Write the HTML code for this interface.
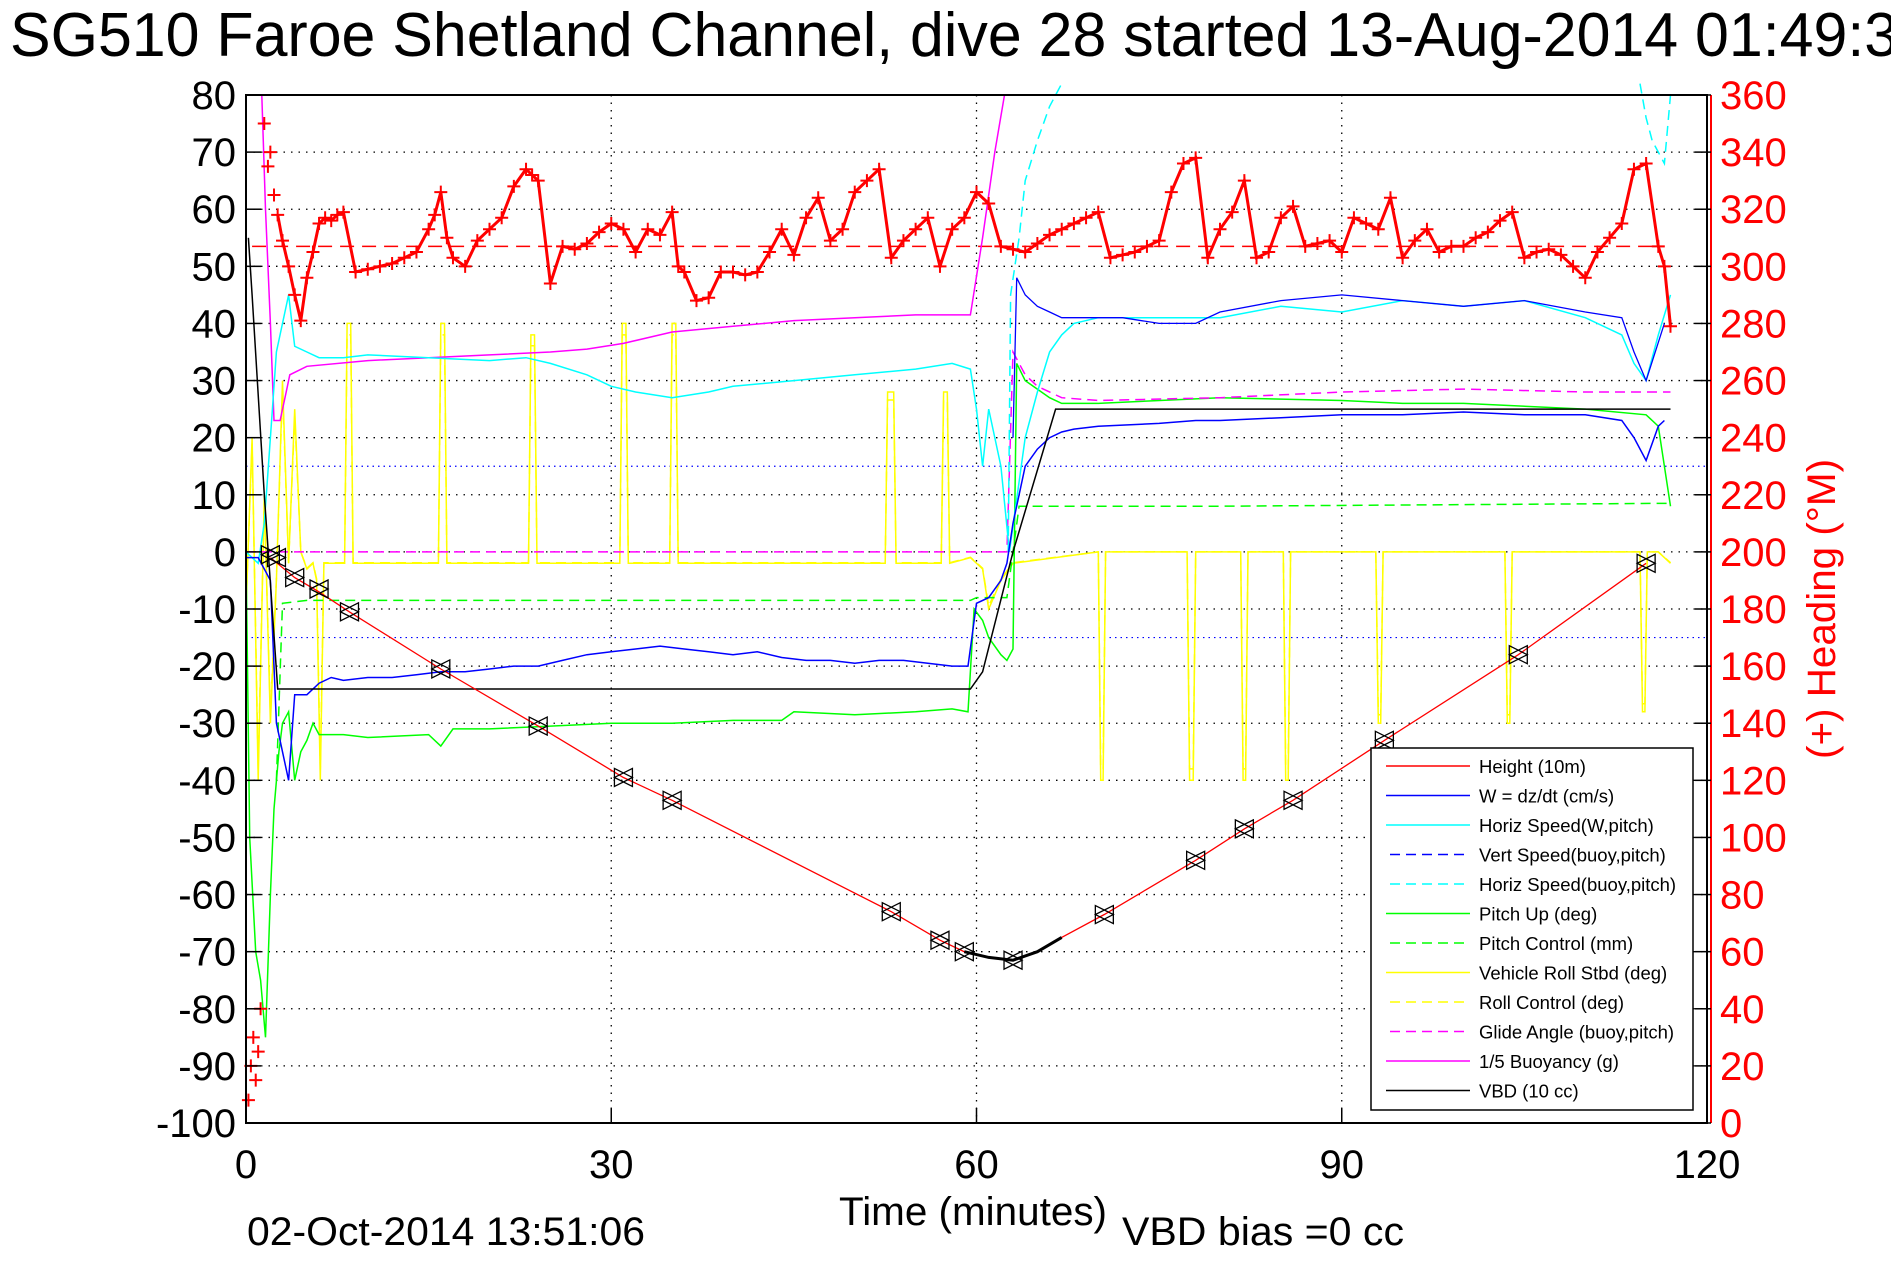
<!DOCTYPE html>
<html><head><meta charset="utf-8"><title>SG510 dive 28</title>
<style>html,body{margin:0;padding:0;background:#fff;}svg{display:block;font-family:"Liberation Sans",sans-serif;}</style>
</head><body>
<svg id="chart" width="1891" height="1262" viewBox="0 0 1891 1262" xmlns="http://www.w3.org/2000/svg">
<rect x="0" y="0" width="1891" height="1262" fill="#fff"/>
<g id="grid"></g>
<g id="series"></g>
<g id="axes"></g>
<text x="10" y="56" font-size="62" textLength="1922" lengthAdjust="spacingAndGlyphs">SG510 Faroe Shetland Channel, dive 28 started 13-Aug-2014 01:49:37</text>
<text x="973" y="1225" font-size="40" text-anchor="middle" textLength="268" lengthAdjust="spacingAndGlyphs">Time (minutes)</text>
<text x="1122" y="1245" font-size="40" textLength="282" lengthAdjust="spacingAndGlyphs">VBD bias =0 cc</text>
<text x="247" y="1245" font-size="40" textLength="398" lengthAdjust="spacingAndGlyphs">02-Oct-2014 13:51:06</text>
<text transform="translate(1835,609) rotate(-90)" font-size="40" fill="#f00" text-anchor="middle" textLength="300" lengthAdjust="spacingAndGlyphs">(+) Heading (°M)</text>
<g id="legend"></g>
</svg>
<script>
// ---- data ----
const xTicks = [0, 30, 60, 90, 120];
const yTicksLeft = [80, 70, 60, 50, 40, 30, 20, 10, 0, -10, -20, -30, -40, -50, -60, -70, -80, -90, -100];
const yTicksRight = [360, 340, 320, 300, 280, 260, 240, 220, 200, 180, 160, 140, 120, 100, 80, 60, 40, 20, 0];

const heightT = [2, 4, 6, 8.5, 16, 24, 31, 35, 53, 57, 59, 61, 63, 65, 67, 70.5, 78, 82, 86, 93.5, 104.5, 115];
const heightV = [-1, -4.5, -7, -10.5, -20.5, -30.5, -39.5, -43.5, -63, -68, -70, -71, -71.5, -70, -67.5, -63.5, -54, -48.5, -43.5, -33, -18, -2];
const markerT = [2, 2.5, 4, 6, 8.5, 16, 24, 31, 35, 53, 57, 59, 63, 70.5, 78, 82, 86, 93.5, 104.5, 115];
const markerV = [-0.5, -1, -4.5, -6.5, -10.5, -20.5, -30.5, -39.5, -43.5, -63, -68, -70, -71.5, -63.5, -54, -48.5, -43.5, -33, -18, -2];

const vbdT = [0.2, 0.5, 1.5, 2.6, 59.5, 60.5, 63, 66.5, 117];
const vbdV = [55, 45, 10, -24, -24, -21, 0, 25, 25];

const buoyT = [1.3, 1.6, 2, 2.3, 2.8, 3.3, 3.6, 5, 10, 15, 20, 25, 28, 31, 35, 40, 45, 50, 55, 59.5, 60.5, 61.5, 62.3];
const buoyV = [80, 60, 40, 23, 23, 28, 31, 32.5, 33.5, 34, 34.5, 35, 35.5, 36.5, 38.5, 39.5, 40.5, 41, 41.5, 41.5, 55, 70, 80];

const glideT = [0, 62.5, 63, 64, 65, 67, 70, 80, 90, 100, 110, 117];
const glideV = [0, 0, 35, 31, 29, 27, 26.5, 27, 28, 28.5, 28, 28];

const pitchT = [0, 0.3, 0.8, 1.2, 1.6, 2, 2.3, 2.7, 3, 3.5, 4, 4.5, 5, 5.5, 6, 8, 10, 15, 16, 17, 20, 25, 30, 35, 40, 44, 45, 50, 55, 58, 59.3, 59.8, 60.5, 61, 62, 62.5, 63, 63.3, 64, 66, 67, 70, 80, 90, 95, 100, 110, 115, 116, 117];
const pitchV = [0, -50, -70, -75, -85, -60, -45, -35, -30, -28, -40, -35, -33, -30, -32, -32, -32.5, -32, -34, -31, -31, -30.5, -30, -30, -29.5, -29.5, -28, -28.5, -28, -27.5, -28, -10, -12, -15, -18, -19, -17, 33, 30, 27, 26, 26, 27, 26.5, 26, 26, 25, 24, 22, 8];

const pctlT = [2.5, 3, 5, 59.5, 60, 62.5, 63.5, 80, 117];
const pctlV = [-40, -9, -8.5, -8.5, -8, -8, 8, 8, 8.5];

const wT = [0, 1, 2, 2.5, 3, 3.5, 4, 5, 6, 7, 8, 10, 12, 14, 16, 18, 20, 22, 24, 26, 28, 30, 32, 34, 36, 38, 40, 42, 44, 46, 48, 50, 52, 54, 56, 58, 59.3, 60, 61, 62, 62.5, 63, 63.5, 64, 65, 66, 67, 68, 70, 75, 78, 80, 85, 90, 95, 100, 105, 110, 113, 114, 115, 116, 116.5];
const wV = [-1, -1, -5, -30, -35, -40, -25, -25, -23, -22, -22.5, -22, -22, -21.5, -21, -21, -20.5, -20, -20, -19, -18, -17.5, -17, -16.5, -17, -17.5, -18, -17.5, -18.5, -19, -19, -19.5, -19, -19, -19.5, -20, -20, -9, -8, -5, -2, 5, 10, 15, 18, 20, 21, 21.5, 22, 22.5, 23, 23, 23.5, 24, 24, 24.5, 24, 24, 23, 20, 16, 22, 23];

const vsT = [63, 63.3, 64, 65, 66, 67, 70, 72, 75, 78, 80, 85, 90, 95, 100, 105, 110, 113, 114, 115, 116.5];
const vsV = [20, 48, 45, 43, 42, 41, 41, 41, 40, 40, 42, 44, 45, 44, 43, 44, 42, 41, 35, 30, 40];

const hsT = [0, 1, 1.5, 2, 2.5, 3, 3.5, 4, 5, 6, 8, 10, 15, 20, 23, 25, 28, 30, 32, 35, 38, 40, 45, 50, 55, 58, 59.5, 60, 60.5, 61, 62, 62.7, 64, 65, 66, 67, 68, 70, 75, 80, 85, 90, 95, 100, 105, 110, 113, 114, 115, 116, 117];
const hsV = [0, -2, 5, 20, 35, 40, 45, 36, 35, 34, 34, 34.5, 34, 33.5, 34, 33, 31, 29, 28, 27, 28, 29, 30, 31, 32, 33, 32, 25, 15, 25, 15, 0, 20, 28, 35, 38, 40, 41, 41, 41, 43, 42, 44, 43, 44, 41, 38, 33, 30, 38, 45];

const hbT = [62.6, 62.8, 63.5, 64, 65, 66, 67];
const hbV = [0, 45, 55, 65, 72, 78, 82];
const hbEndT = [114.5, 115, 115.5, 116, 116.5, 117];
const hbEndV = [82, 76, 72, 70, 68, 80];

const rollT = [0, 0.5, 1, 1.5, 2, 2.5, 3, 3.5, 4, 4.5, 5, 5.5, 5.8, 6.1, 6.4, 8.1, 8.3, 8.6, 8.8, 15.8, 16, 16.3, 16.5, 23.2, 23.4, 23.7, 23.9, 30.7, 30.9, 31.2, 31.4, 34.8, 35, 35.3, 35.5, 52.5, 52.7, 53.2, 53.4, 57.1, 57.3, 57.6, 57.8, 59.5, 60.5, 61, 62, 63, 70, 70.2, 70.4, 70.6, 77.3, 77.5, 77.8, 78, 81.7, 81.9, 82.1, 82.3, 85.2, 85.4, 85.6, 85.8, 92.8, 93, 93.2, 93.4, 103.4, 103.6, 103.8, 104, 114.5, 114.7, 114.9, 115.1, 116, 117];
const rollV = [-10, 20, -40, 10, -30, -5, 30, -2, 25, 0, -3, -2, -5, -40, -2, -2, 40, 40, -2, -2, 40, 40, -2, -2, 38, 38, -2, -2, 40, 40, -2, -2, 40, 40, -2, -2, 28, 28, -2, -2, 28, 28, -2, -1, -3, -10, -5, -2, 0, -40, -40, 0, 0, -40, -40, 0, 0, -40, -40, 0, 0, -40, -40, 0, 0, -30, -30, 0, 0, -30, -30, 0, 0, -28, -28, 0, 0, -2];

const headT = [0.2, 0.4, 0.6, 0.8, 1.0, 1.2, 1.5, 1.8, 2.0, 2.3, 2.6, 3, 3.5, 4, 4.5, 5, 5.5, 6, 6.5, 7, 7.5, 8, 9, 10, 11, 12, 13, 14, 15, 15.5, 16, 16.5, 17, 18, 19, 20, 21, 22, 23, 23.5, 24, 25, 26, 27, 28, 29, 30, 31, 32, 33, 34, 35, 35.5, 36, 37, 38, 39, 40, 41, 42, 43, 44, 45, 46, 47, 48, 49, 50, 51, 52, 53, 54, 55, 56, 57, 58, 59, 60, 61, 62, 63, 64, 65, 66, 67, 68, 69, 70, 71, 72, 73, 74, 75, 76, 77, 78, 79, 80, 81, 82, 83, 84, 85, 86, 87, 88, 89, 90, 91, 92, 93, 94, 95, 96, 97, 98, 99, 100, 101, 102, 103, 104, 105, 106, 107, 108, 109, 110, 111, 112, 113, 114, 115, 116, 116.5, 117];
const headV = [8, 20, 30, 15, 25, 40, 350, 335, 340, 325, 318, 309, 300, 290, 281, 296, 305, 315, 317, 316, 318, 319, 298, 299, 300, 301, 303, 305, 313, 318, 326, 310, 303, 300, 309, 313, 317, 328, 334, 332, 330, 294, 307, 306, 308, 312, 315, 313, 305, 313, 311, 319, 300, 298, 288, 289, 298, 298, 297, 298, 305, 313, 304, 317, 324, 309, 313, 326, 330, 334, 303, 309, 313, 317, 300, 313, 317, 326, 322, 307, 306, 305, 308, 311, 313, 315, 317, 319, 303, 304, 305, 307, 309, 326, 336, 338, 303, 313, 319, 330, 303, 305, 317, 321, 307, 308, 309, 305, 317, 315, 313, 324, 303, 309, 313, 305, 307, 307, 310, 312, 316, 319, 303, 305, 306, 304, 300, 296, 305, 310, 315, 334, 336, 307, 300, 279];

const headMean = [307];
const speedRef = [15, -15];

const legendNames = ['Height (10m)', 'W = dz/dt (cm/s)', 'Horiz Speed(W,pitch)', 'Vert Speed(buoy,pitch)', 'Horiz Speed(buoy,pitch)', 'Pitch Up (deg)', 'Pitch Control (mm)', 'Vehicle Roll Stbd (deg)', 'Roll Control (deg)', 'Glide Angle (buoy,pitch)', '1/5 Buoyancy (g)', 'VBD (10 cc)'];
const legendColors = ['#f00', '#00f', '#0ff', '#00f', '#0ff', '#0f0', '#0f0', '#ff0', '#ff0', '#f0f', '#f0f', '#000'];
const legendDashed = [false, false, false, true, true, false, true, false, true, true, false, false];

// ---- geometry ----
const L = 246, R = 1707, T = 95, B = 1123;
const X = t => L + (t / 120) * (R - L);
const YL = v => T + (80 - v) / 180 * (B - T);
const YR = h => B - h / 360 * (B - T);
const NS = 'http://www.w3.org/2000/svg';
function mk(tag, parent, attrs) {
  const e = document.createElementNS(NS, tag);
  for (const k in attrs) e.setAttribute(k, attrs[k]);
  parent.appendChild(e);
  return e;
}
const grid = document.getElementById('grid');
const series = document.getElementById('series');
const axes = document.getElementById('axes');
const legend = document.getElementById('legend');

yTicksLeft.forEach(v => {
  if (v === 80 || v === -100) return;
  const g = mk('line', grid, {x1: L, x2: R, y1: YL(v), y2: YL(v), stroke: '#000', 'stroke-width': 1.3, 'stroke-dasharray': '1.5 6'});
  
  
});
xTicks.forEach(t => {
  if (t === 0 || t === 120) return;
  const g = mk('line', grid, {x1: X(t), x2: X(t), y1: T, y2: B, stroke: '#000', 'stroke-width': 1.3, 'stroke-dasharray': '1.5 6'});
  
  
});
speedRef.forEach(v => {
  const g = mk('line', grid, {x1: L, x2: R, y1: YL(v), y2: YL(v), stroke: '#00f', 'stroke-width': 1.2, 'stroke-dasharray': '1.5 4'});
  
  
});

function poly(ts, vs, color, dashed, name, yf, width) {
  const pts = ts.map((t, i) => X(t).toFixed(1) + ',' + (yf || YL)(vs[i]).toFixed(1)).join(' ');
  const p = mk('polyline', series, {points: pts, fill: 'none', stroke: color, 'stroke-width': width || 1.5});
  if (dashed) p.setAttribute('stroke-dasharray', '10 6');
  
  
  return p;
}

const hm = mk('line', series, {x1: X(0.5), x2: X(116.5), y1: YR(headMean[0]), y2: YR(headMean[0]), stroke: '#f00', 'stroke-width': 1.5, 'stroke-dasharray': '14 8'});



poly(rollT, rollV.map(v => v * 0.95), '#ff0', true, 'roll-control-line');
poly(rollT, rollV, '#ff0', false, 'vehicle-roll-line');
poly(pctlT, pctlV, '#0f0', true, 'pitch-control-line');
poly(pitchT, pitchV, '#0f0', false, 'pitch-up-line');
poly(glideT, glideV, '#f0f', true, 'glide-angle-line');
poly(buoyT, buoyV, '#f0f', false, 'buoyancy-line');
poly(hsT, hsV, '#0ff', false, 'horiz-speed-w-line');
poly(hbT, hbV, '#0ff', true, 'horiz-speed-buoy-line');
poly(hbEndT, hbEndV, '#0ff', true, 'horiz-speed-buoy-end-line');
poly(vsT, vsV, '#00f', false, 'vert-speed-buoy-line', null, 1.3);
poly(wT, wV, '#00f', false, 'w-line');
poly(vbdT, vbdV, '#000', false, 'vbd-line');
poly(heightT, heightV, '#f00', false, 'height-line', null, 1.3);
poly(heightT.filter(t => t >= 59 && t <= 67), heightV.filter((v, i) => heightT[i] >= 59 && heightT[i] <= 67), '#000', false, 'height-bottom-segment', null, 3);

markerT.forEach((t, i) => {
  const x = X(t), y = YL(markerV[i]), s = 9;
  const m = mk('path', series, {d: `M${x - s},${y - s}L${x + s},${y}L${x - s},${y + s}Z M${x + s},${y - s}L${x - s},${y}L${x + s},${y + s}Z`, fill: 'none', stroke: '#000', 'stroke-width': 1.3});
  
  
});

const trackT = headT.filter(t => t >= 2.5);
const trackV = headV.filter((v, i) => headT[i] >= 2.5);
poly(trackT, trackV, '#f00', false, 'heading-track', YR, 3);

headT.forEach((t, i) => {
  const x = X(t), y = YR(headV[i]), s = 6.5;
  const m = mk('path', series, {d: `M${x - s},${y}H${x + s}M${x},${y - s}V${y + s}`, stroke: '#f00', 'stroke-width': 2});
  
  
});

const fr = mk('rect', axes, {x: L, y: T, width: R - L, height: B - T, fill: 'none', stroke: '#000', 'stroke-width': 2});


const ra = mk('line', axes, {x1: R + 4, x2: R + 4, y1: T, y2: B, stroke: '#f00', 'stroke-width': 2});



yTicksLeft.forEach(v => {
  const y = YL(v);
  const tk = mk('line', axes, {x1: L, x2: L + 15, y1: y, y2: y, stroke: '#000', 'stroke-width': 1.5});
  
  
  const tx = mk('text', axes, {x: 236, y: y + 14, 'font-size': 40, 'text-anchor': 'end'});
  tx.textContent = v;
  
  
});
yTicksRight.forEach(h => {
  const y = YR(h);
  const tk = mk('line', axes, {x1: R - 12, x2: R + 4, y1: y, y2: y, stroke: '#000', 'stroke-width': 1.5});
  
  
  const tx = mk('text', axes, {x: 1720, y: y + 14, 'font-size': 40, fill: '#f00'});
  tx.textContent = h;
  
  
});
xTicks.forEach(t => {
  const x = X(t);
  const tk = mk('line', axes, {x1: x, x2: x, y1: B, y2: B - 15, stroke: '#000', 'stroke-width': 1.5});
  
  
  const tx = mk('text', axes, {x: x, y: 1178, 'font-size': 40, 'text-anchor': 'middle'});
  tx.textContent = t;
  
  
});

const lb = mk('rect', legend, {x: 1371, y: 748, width: 322, height: 362, fill: '#fff', stroke: '#000', 'stroke-width': 1.5});


legendNames.forEach((n, i) => {
  const y = 766 + i * 29.5;
  const ln = mk('line', legend, {x1: legendDashed[i] ? 1390 : 1386, x2: 1470, y1: y, y2: y, stroke: legendColors[i], 'stroke-width': 1.5});
  if (legendDashed[i]) ln.setAttribute('stroke-dasharray', '10 6');
  
  
  const tx = mk('text', legend, {x: 1479, y: y + 7, 'font-size': 18.5});
  tx.textContent = n;
  
  
});
</script>
</body></html>
